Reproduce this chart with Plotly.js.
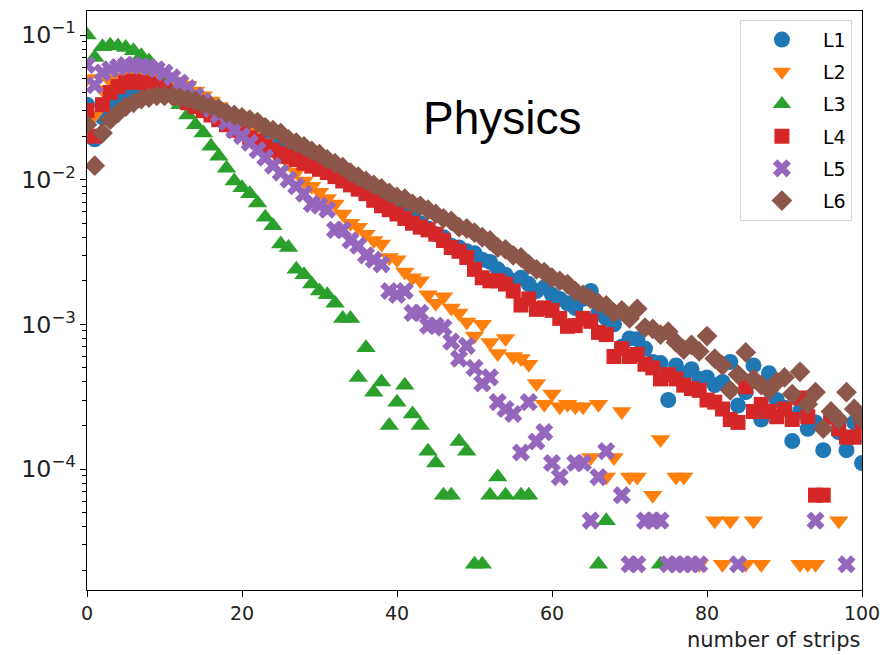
<!DOCTYPE html>
<html>
<head>
<meta charset="utf-8">
<script src="https://cdn.plot.ly/plotly-3.0.1.min.js"></script>
<style>html,body{margin:0;padding:0;background:#fff;}#chart{width:883px;height:655px;}</style>
</head>
<body>
<div id="chart"></div>
<script>
// number of strips (x), 0..100
const strips = Array.from({length: 101}, (_, i) => i);
const seriesNames = ["L1", "L2", "L3", "L4", "L5", "L6"];
const _ = null;

const L1 = [0.033,0.019,0.027,0.031,0.035,0.037,0.039,0.040,0.040,0.040,
0.040,0.039,0.038,0.036,0.034,0.032,0.030,0.029,0.027,0.025,
0.024,0.022,0.021,0.020,0.019,0.0178,0.0165,0.0155,0.0145,0.0138,
0.013,0.0122,0.0115,0.0108,0.0100,0.0094,0.0088,0.0082,0.0076,0.0070,
0.0064,0.0060,0.0055,0.0050,0.0046,0.0042,0.0040,0.0035,0.0034,0.0032,
0.0031,0.0028,0.0027,0.0024,0.0022,0.0020,0.0021,0.0019,0.0017,0.0018,
0.0016,0.0015,0.0014,0.0013,0.0015,0.0017,0.0012,0.0011,0.0010,0.0007,
0.0008,0.00079,0.00068,0.00055,0.00054,0.0003,0.00052,0.00045,0.00049,0.00042,
0.00043,0.00038,0.0004,0.00055,0.000275,0.00034,0.00052,0.00022,0.00046,0.0003,
0.000265,0.000156,0.00025,0.00019,0.00021,0.000135,0.00023,0.00018,0.000135,0.00021,
0.00011];

const L2 = [0.05,0.028,0.042,0.048,0.050,0.051,0.052,0.052,0.051,0.050,
0.049,0.048,0.047,0.045,0.041,0.038,0.035,0.032,0.029,0.026,
0.024,0.022,0.020,0.018,0.016,0.0145,0.013,0.0113,0.0098,0.0090,
0.0082,0.0074,0.0068,0.0058,0.0050,0.0047,0.0042,0.0038,0.0036,0.0029,
0.0028,0.0023,0.0021,0.0020,0.0016,0.0014,0.00155,0.0013,0.0012,0.00104,
0.00083,0.0010,0.00075,0.00063,0.0008,0.0006,0.00058,0.00053,0.00039,0.00028,
0.00033,0.00027,0.00028,0.00027,0.00027,0.00012,0.00028,0.000088,0.00012,0.00025,
0.000088,0.000088,_,0.000066,0.00016,_,0.000088,0.000088,_,0.000022,
_,0.000044,0.000022,0.000044,_,0.000022,0.000044,0.000022,_,_,
_,_,0.000022,0.000022,0.000022,_,_,0.000044,_,_,
_];

const L3 = [0.1,0.07,0.083,0.085,0.084,0.082,0.078,0.072,0.066,0.057,
0.047,0.040,0.033,0.028,0.024,0.021,0.017,0.0145,0.012,0.0098,
0.0088,0.0080,0.0069,0.0055,0.0048,0.0036,0.0034,0.0024,0.0022,0.0019,
0.0017,0.0016,0.0014,0.0011,0.0011,0.00043,0.00069,0.00034,0.0004,0.0002,
0.00029,0.00038,0.00024,0.0002,0.000133,0.00011,0.000066,0.000066,0.000155,0.000133,
0.000022,0.000022,0.000066,0.000088,0.000066,_,0.000066,0.000066,_,_,
_,_,_,_,_,_,0.000022,0.000044,_,_,
_,_,_,_,0.000022,_,_,_,_,_,
_,_,_,_,_,_,_,_,_,_,
_,_,_,_,_,_,_,_,_,_,
_];

const L4 = [0.030,0.020,0.033,0.040,0.044,0.047,0.048,0.047,0.046,0.044,
0.042,0.040,0.037,0.034,0.032,0.030,0.028,0.026,0.024,0.022,
0.021,0.0195,0.0185,0.017,0.016,0.0152,0.0145,0.0138,0.013,0.0124,
0.0118,0.0112,0.0105,0.0098,0.0092,0.0086,0.0080,0.0072,0.0066,0.0062,
0.0058,0.0054,0.0050,0.0047,0.0045,0.0042,0.0038,0.0034,0.0032,0.0029,
0.0024,0.0021,0.0020,0.0020,0.0019,0.0017,0.00136,0.0015,0.00127,0.0013,
0.00125,0.0011,0.00097,0.00098,0.0011,0.00105,0.00088,0.00085,0.0006,0.00068,
0.0006,0.00062,0.00053,0.0005,0.00042,0.00045,0.00042,0.00038,0.00036,0.00035,
0.0003,0.00029,0.00026,0.00022,0.00021,0.00037,0.00025,0.00028,0.00025,0.00023,
0.00026,0.00022,0.00031,0.00023,0.000066,0.000066,0.00023,0.00019,0.000166,0.000166,
0.00021];

const L5 = [0.062,0.045,0.055,0.058,0.060,0.062,0.062,0.061,0.060,0.058,
0.055,0.051,0.047,0.043,0.038,0.035,0.031,0.028,0.025,0.022,
0.020,0.018,0.016,0.0142,0.0125,0.0112,0.010,0.009,0.008,0.0068,
0.0066,0.0062,0.0045,0.0045,0.0038,0.0035,0.0030,0.0028,0.0026,0.0017,
0.0016,0.0017,0.0012,0.0012,0.00098,0.00098,0.00095,0.00076,0.00058,0.00071,
0.0005,0.00039,0.00043,0.00029,0.00026,0.00024,0.00013,0.00029,0.000155,0.00018,
0.00011,0.000088,_,0.00011,0.00011,0.000044,0.000088,0.000133,_,0.000066,
0.000022,0.000022,0.000044,0.000044,0.000044,0.000022,0.000022,0.000022,0.000022,0.000022,
_,_,_,_,0.000022,_,_,_,_,_,
_,_,_,_,0.000044,_,_,_,0.000022,_,
_];

const L6 = [0.024,0.0125,0.021,0.026,0.029,0.032,0.034,0.036,0.037,0.038,
0.038,0.038,0.037,0.036,0.035,0.033,0.032,0.031,0.029,0.028,
0.027,0.026,0.025,0.023,0.022,0.021,0.019,0.018,0.017,0.0158,
0.015,0.0138,0.013,0.0122,0.0112,0.0105,0.0098,0.0092,0.0087,0.0081,
0.0076,0.0074,0.0068,0.0066,0.0062,0.0058,0.0054,0.0052,0.0047,0.0046,
0.0043,0.0040,0.0038,0.0034,0.0033,0.0030,0.0029,0.0026,0.0024,0.0023,
0.0021,0.0020,0.0019,0.0017,0.0016,0.0015,0.0014,0.00135,0.0012,0.00125,
0.0011,0.00128,0.00095,0.00093,0.00085,0.00089,0.00075,0.00067,0.00072,0.00065,
0.00083,0.00058,0.00052,0.00035,0.00045,0.00064,0.00042,0.00038,0.00035,0.0004,
0.00043,0.00033,0.00047,0.00028,0.00034,0.00019,0.00025,0.00022,0.00034,0.00026,
0.00022];

const seriesValues = [L1, L2, L3, L4, L5, L6];
const colors = ["#1f77b4", "#ff7f0e", "#2ca02c", "#d62728", "#9467bd", "#8c564b"];
const symbols = ["circle", "triangle-down", "triangle-up", "square", "x", "diamond"];
const sizes = [16, 17, 17, 15, 16, 16];

const traces = seriesNames.map((name, k) => ({
  x: strips,
  y: seriesValues[k],
  type: "scatter",
  mode: "markers",
  name: name,
  legendgroup: name,
  marker: {symbol: symbols[k], color: colors[k], size: sizes[k], line: {width: 0}},
  cliponaxis: true
}));

const layout = {
  width: 883, height: 655,
  margin: {l: 87, r: 21, t: 11, b: 65},
  paper_bgcolor: "#fff", plot_bgcolor: "#fff",
  font: {family: "DejaVu Sans", size: 18, color: "#000"},
  showlegend: true,
  legend: {
    x: 0.987, y: 0.985, xanchor: "right", yanchor: "top",
    bgcolor: "rgba(255,255,255,0.8)", bordercolor: "#d8d8d8", borderwidth: 1,
    font: {family: "DejaVu Sans", size: 19, color: "#000"},
    tracegroupgap: 4.5, itemwidth: 72
  },
  xaxis: {
    range: [0, 100], tickvals: [0, 20, 40, 60, 80, 100],
    ticks: "outside", ticklen: 6, tickcolor: "#000",
    showline: true, linecolor: "#000", linewidth: 1.3, mirror: true,
    showgrid: false, zeroline: false,
    tickfont: {family: "DejaVu Sans", size: 19, color: "#222"}
  },
  yaxis: {
    type: "log", range: [-4.836, -0.834], dtick: 1, exponentformat: "power",
    ticks: "outside", ticklen: 6, tickcolor: "#000",
    minor: {dtick: "D1", ticks: "outside", ticklen: 3.5, tickcolor: "#000", showgrid: false},
    showline: true, linecolor: "#000", linewidth: 1.3, mirror: true,
    showgrid: false, zeroline: false,
    tickfont: {family: "DejaVu Sans", size: 19, color: "#222"}
  },
  annotations: [
    {text: "Physics", xref: "paper", yref: "paper", x: 0.535, y: 0.815,
     xanchor: "center", yanchor: "middle", showarrow: false,
     font: {family: "Liberation Sans", size: 46, color: "#000"}},
    {text: "number of strips", xref: "paper", yref: "paper", x: 1, y: 0,
     xanchor: "right", yanchor: "middle", yshift: -50, showarrow: false,
     font: {family: "DejaVu Sans", size: 21, color: "#222"}}
  ]
};

Plotly.newPlot("chart", traces, layout, {displayModeBar: false, staticPlot: true});
</script>
</body>
</html>
